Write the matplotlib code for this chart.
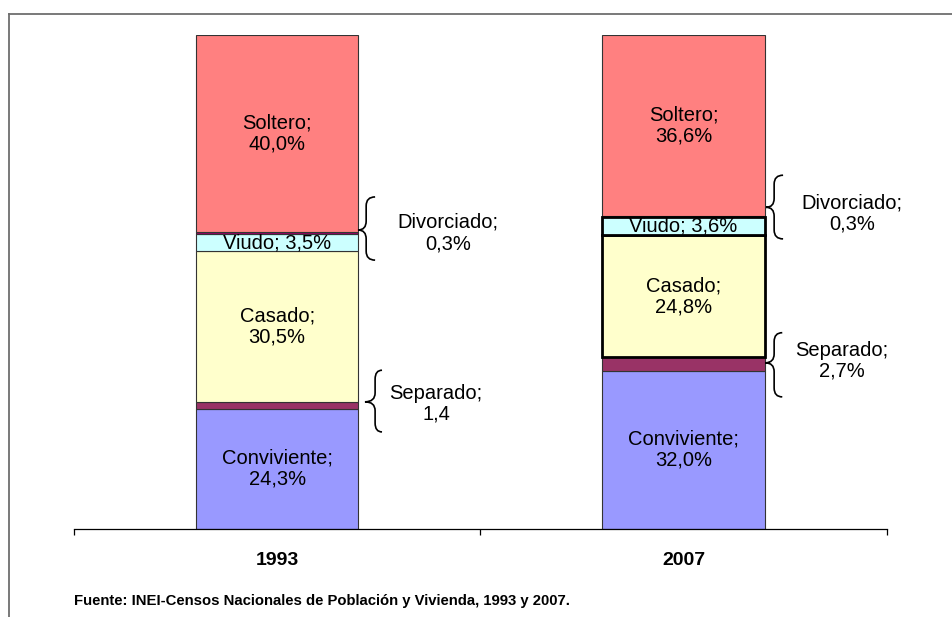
import matplotlib
matplotlib.use("Agg")
import matplotlib.pyplot as plt
from matplotlib.path import Path
from matplotlib.patches import PathPatch
from matplotlib.lines import Line2D
import numpy as np

plt.rcParams['font.family'] = ['Liberation Sans', 'DejaVu Sans']

years = ['1993', '2007']
categories = ['Conviviente', 'Separado', 'Casado', 'Viudo', 'Divorciado', 'Soltero']
values_1993 = [24.3, 1.4, 30.5, 3.5, 0.3, 40.0]
values_2007 = [32.0, 2.7, 24.8, 3.6, 0.3, 36.6]
labels_1993 = ['24,3%', '1,4', '30,5%', '3,5%', '0,3%', '40,0%']
labels_2007 = ['32,0%', '2,7%', '24,8%', '3,6%', '0,3%', '36,6%']
colors = ['#9999FF', '#993366', '#FFFFCC', '#CCFFFF', '#990066', '#FF8080']

series = [values_1993, values_2007]
series_labels = [labels_1993, labels_2007]

fig = plt.figure(figsize=(9.53, 6.17), dpi=100)
ax = fig.add_axes([74 / 953, 1 - 528.7 / 617, 812.7 / 953, 493.7 / 617])

width = 0.4
x = np.arange(len(years))
for i, vals in enumerate(series):
    bottom = 0
    for j, v in enumerate(vals):
        lw = 0.8
        ec = '#333333'
        z = 2
        # 2007 viudo / casado have a heavy outline in the original
        if i == 1 and categories[j] in ('Viudo', 'Casado'):
            lw = 2.0
            ec = 'black'
            z = 3
        ax.bar(x[i], v, width, bottom=bottom, color=colors[j], edgecolor=ec,
               linewidth=lw, zorder=z)
        bottom += v

# labels inside the bars
for i, vals in enumerate(series):
    cum = np.cumsum([0] + vals)
    for j, cat in enumerate(categories):
        mid = (cum[j] + cum[j + 1]) / 2
        if cat in ('Soltero', 'Casado', 'Conviviente'):
            ax.text(x[i], mid, cat + ';\n' + series_labels[i][j], ha='center',
                    va='center', fontsize=14.5, linespacing=1.15, zorder=5)
        elif cat == 'Viudo':
            ax.text(x[i], mid, cat + '; ' + series_labels[i][j], ha='center',
                    va='center', fontsize=14.5, zorder=5)


def brace(ax, xl, xm, xr, ybot, ytop, ytip, d=1.8):
    verts = [(xr, ytop), (xm, ytop), (xm, ytop - d),
             (xm, ytip + d),
             (xm, ytip), (xl, ytip),
             (xm, ytip), (xm, ytip - d),
             (xm, ybot + d),
             (xm, ybot), (xr, ybot)]
    codes = [Path.MOVETO, Path.CURVE3, Path.CURVE3,
             Path.LINETO,
             Path.CURVE3, Path.CURVE3,
             Path.CURVE3, Path.CURVE3,
             Path.LINETO,
             Path.CURVE3, Path.CURVE3]
    ax.add_patch(PathPatch(Path(verts, codes), fill=False, lw=1.2,
                           edgecolor='black', clip_on=False, zorder=4))


# side annotations (divorciado, separado)
ann_cats = ['Divorciado', 'Separado']
brace_x = [[(0.199, 0.219, 0.241), (0.216, 0.241, 0.258)],
           [(1.203, 1.223, 1.245), (1.201, 1.223, 1.243)]]
brace_y = [[(54.4, 67.2, 60.5), (19.6, 32.1, 25.7)],
           [(58.7, 71.6, 65.1), (26.7, 39.7, 33.6)]]
text_xy = [[(0.420, 59.9), (0.391, 25.3)], [(1.415, 63.9), (1.390, 34.0)]]
for i in range(len(years)):
    for k, cat in enumerate(ann_cats):
        j = categories.index(cat)
        xl, xm, xr = brace_x[i][k]
        yb, yt, ytip = brace_y[i][k]
        brace(ax, xl, xm, xr, yb, yt, ytip)
        tx, ty = text_xy[i][k]
        ax.text(tx, ty, cat + ';\n' + series_labels[i][j], ha='center',
                va='center', fontsize=14.5, linespacing=1.15)

ax.set_xlim(-0.5, 1.5)
ax.set_ylim(0, 100)
ax.set_xticks([-0.5, 0.5, 1.5])
ax.set_xticklabels([])
ax.set_xticks(x, minor=True)
ax.set_xticklabels(years, minor=True, fontsize=14, fontweight='bold')
ax.tick_params(axis='x', which='major', length=4.5, width=0.9, direction='out')
ax.tick_params(axis='x', which='minor', length=0, pad=17)
ax.set_yticks([])
for s in ['top', 'right', 'left']:
    ax.spines[s].set_visible(False)
ax.spines['bottom'].set_linewidth(0.9)

fig.text(74 / 953, 1 - 601 / 617, 'Fuente: INEI-Censos Nacionales de Población y Vivienda, 1993 y 2007.',
         fontsize=10.7, fontweight='bold', va='center', ha='left')

# outer frame (only left and top visible in the crop)
fig.add_artist(Line2D([9.5 / 953, 9.5 / 953], [0, 1 - 14 / 617], color='#6e6e6e', lw=1.3))
fig.add_artist(Line2D([9.5 / 953, 1], [1 - 14 / 617, 1 - 14 / 617], color='#6e6e6e', lw=1.3))

fig.savefig('out.png', dpi=100)
